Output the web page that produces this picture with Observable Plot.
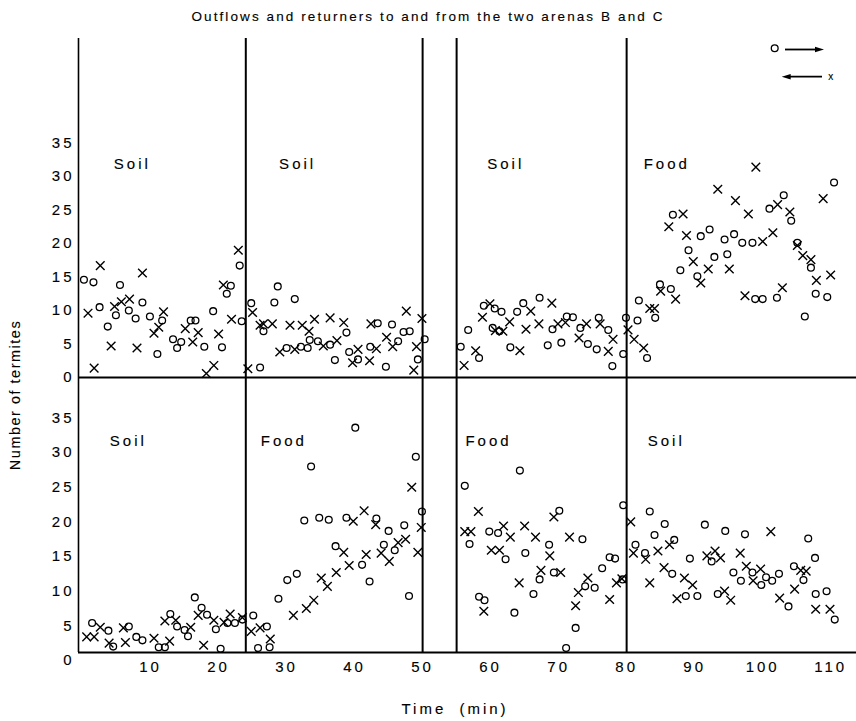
<!DOCTYPE html>
<html>
<head>
<meta charset="utf-8">
<script src="https://cdn.jsdelivr.net/npm/d3@7"></script>
<script src="https://cdn.jsdelivr.net/npm/@observablehq/plot@0.6"></script>
<style>
  html, body { margin: 0; padding: 0; background: #fff; }
  #chart { position: relative; width: 856px; height: 721px; font-family: "Liberation Sans", Arial, sans-serif; color: #000; overflow: hidden; }
  #chart .panel { position: absolute; left: 0; }
  #chart .title { position: absolute; left: 0; top: 9px; width: 856px; text-align: center; font-size: 13.5px; letter-spacing: 2.1px; line-height: 15px; -webkit-text-stroke: 0.12px #000; }
  #chart .ylabel { position: absolute; left: 15px; top: 395px; transform: translate(-50%, -50%) rotate(-90deg); white-space: nowrap; font-size: 14.5px; letter-spacing: 1.5px; -webkit-text-stroke: 0.12px #000; }
  #chart .xlabel { position: absolute; left: 455px; top: 708px; transform: translate(-50%, -50%); white-space: nowrap; font-size: 15px; letter-spacing: 3px; word-spacing: 6px; -webkit-text-stroke: 0.12px #000; }
  #chart .legend { position: absolute; left: 765px; top: 36px; }
  #chart svg text { letter-spacing: 3px; stroke: #000; stroke-width: 0.12px; }
  #chart g[aria-label="region label"] text { letter-spacing: 3.3px; }
</style>
</head>
<body>
<div id="chart">
  <div class="title">Outflows and returners to and from the two arenas B and C</div>
  <div class="ylabel">Number of termites</div>
  <div class="xlabel">Time (min)</div>
</div>
<script>
// ---- data (time in min, number of termites) ----
const dividers = [24, 50, 55, 80];
const xTicks = [10, 20, 30, 40, 50, 60, 70, 80, 90, 100, 110];
const yTicks = [0, 5, 10, 15, 20, 25, 30, 35];

// upper panel: outflows (o) and returners (x)
const topOut = [[0.2,14.6],[1.6,14.2],[2.5,10.5],[3.7,7.6],[4.9,9.3],[5.5,13.8],[6.8,10.0],[7.8,8.8],[8.8,11.2],[9.9,9.1],[11.0,3.5],[11.7,8.5],[13.3,5.7],[13.9,4.4],[14.5,5.3],[15.9,8.5],[16.6,8.5],[17.9,4.6],[19.2,9.9],[20.5,4.5],[21.2,12.5],[21.8,13.7],[23.1,16.7],[23.4,8.4],[24.8,11.1],[26.1,1.5],[26.6,6.9],[28.2,11.2],[28.7,13.6],[30.0,4.4],[31.2,11.7],[32.1,4.6],[33.1,4.4],[33.4,5.6],[34.6,5.4],[36.4,4.9],[37.1,2.6],[38.8,6.7],[39.2,3.8],[40.5,2.7],[42.3,4.6],[43.4,8.1],[44.6,1.6],[45.5,7.9],[46.4,5.4],[47.2,6.8],[48.1,6.9],[49.3,2.7],[50.3,5.7],[55.6,4.6],[56.7,7.1],[58.3,2.9],[59.0,10.7],[60.6,10.3],[61.6,9.8],[60.3,7.4],[61.3,6.9],[62.9,4.5],[63.9,9.8],[64.8,11.1],[67.2,11.9],[68.4,4.8],[69.1,7.2],[70.4,5.2],[71.2,9.1],[72.1,9.0],[73.2,7.4],[74.3,5.0],[75.6,4.2],[75.9,8.9],[77.3,7.1],[77.9,1.7],[79.5,3.5],[79.9,8.9],[81.6,8.5],[81.8,11.5],[83.0,2.9],[84.2,8.9],[84.9,13.9],[86.5,13.2],[86.8,24.3],[87.9,16.0],[89.1,19.0],[90.4,15.1],[90.9,21.1],[92.2,22.1],[92.9,18.0],[94.4,20.6],[94.8,18.4],[95.8,21.4],[97.0,20.1],[98.5,20.1],[98.9,11.7],[100.0,11.7],[101.0,25.2],[102.1,11.9],[103.1,27.2],[104.2,23.4],[105.1,20.1],[106.2,9.1],[107.1,16.4],[107.8,12.5],[109.5,12.0],[110.5,29.1]];
const topRet = [[0.8,9.6],[1.7,1.4],[2.6,16.7],[4.2,4.7],[4.7,10.6],[5.7,11.3],[6.9,11.7],[8.0,4.4],[8.8,15.6],[10.5,6.6],[11.2,7.5],[11.9,9.8],[15.1,7.3],[16.2,5.3],[17.0,6.7],[18.2,0.6],[19.3,1.8],[20.0,6.5],[20.7,13.8],[21.9,8.7],[22.9,19.0],[24.3,1.3],[25.0,9.7],[26.1,7.8],[26.6,8.0],[27.9,8.0],[29.0,3.8],[30.5,7.8],[31.2,4.2],[32.3,7.8],[33.3,6.9],[34.1,8.7],[35.4,4.7],[36.4,8.9],[37.4,5.5],[38.4,8.2],[39.7,2.2],[40.5,4.2],[42.2,2.5],[42.4,8.0],[43.2,4.3],[44.7,6.0],[45.6,4.6],[47.6,9.9],[48.7,1.1],[49.1,4.6],[49.9,8.8],[56.1,1.8],[57.8,4.0],[58.8,9.0],[59.9,11.0],[60.7,7.0],[61.8,6.9],[62.8,8.3],[64.3,4.0],[65.2,7.2],[65.9,9.9],[67.1,8.0],[69.0,11.1],[69.9,8.0],[71.0,8.2],[73.0,5.9],[74.1,8.0],[76.1,8.0],[77.3,3.9],[78.0,5.7],[80.2,7.1],[81.1,5.7],[82.5,4.4],[83.4,10.3],[84.1,10.3],[85.0,12.9],[86.2,22.5],[87.2,11.7],[88.3,24.4],[88.8,21.2],[89.8,17.3],[90.9,14.1],[92.0,16.2],[93.4,28.1],[95.1,16.2],[96.0,26.4],[97.4,12.2],[97.9,24.4],[99.0,31.4],[100.0,20.3],[101.5,21.6],[102.2,25.8],[102.9,13.4],[104.0,24.7],[105.1,19.7],[105.9,18.2],[107.1,17.6],[107.9,14.5],[108.9,26.7],[110.0,15.3]];

// lower panel: outflows (o) and returners (x)
const botOut = [[1.4,5.4],[3.8,4.3],[4.5,2.0],[6.8,4.9],[7.9,3.4],[8.8,2.9],[11.2,1.9],[12.1,1.9],[12.9,6.7],[13.9,4.9],[15.0,4.4],[15.5,3.5],[16.5,9.1],[17.5,7.6],[18.3,6.6],[19.6,4.5],[20.3,1.7],[21.3,5.4],[22.4,5.4],[23.5,5.9],[25.1,6.5],[25.8,1.8],[27.1,4.9],[27.5,1.9],[28.8,8.9],[30.1,11.6],[31.5,12.5],[32.6,20.2],[33.6,28.0],[34.8,20.6],[36.2,20.3],[37.2,16.5],[38.8,20.6],[40.1,33.6],[41.1,13.8],[42.2,11.4],[43.2,20.5],[44.3,16.7],[45.0,18.7],[45.9,15.9],[47.3,19.5],[48.0,9.3],[49.0,29.4],[49.9,21.5],[56.2,25.2],[56.9,16.8],[58.3,9.2],[59.1,8.7],[59.8,18.6],[61.1,18.4],[62.2,14.6],[63.5,6.9],[64.3,27.4],[65.1,15.5],[66.3,9.6],[67.2,11.7],[68.6,16.7],[69.3,12.7],[70.1,21.6],[71.1,1.8],[72.5,4.7],[73.5,17.5],[73.9,10.7],[75.3,10.5],[76.4,13.3],[77.5,14.9],[78.3,14.7],[79.4,11.7],[79.5,22.4],[81.3,16.7],[82.7,15.5],[83.4,21.5],[84.1,18.1],[85.6,19.7],[86.7,12.5],[87.0,17.4],[88.7,9.3],[89.3,14.7],[90.4,9.3],[91.5,19.6],[92.5,14.3],[93.4,9.6],[94.5,18.7],[95.7,12.7],[96.8,11.5],[97.4,18.2],[98.5,12.7],[99.8,10.9],[100.5,12.0],[101.4,11.5],[102.4,12.5],[103.8,7.8],[104.6,13.6],[106.0,11.6],[106.7,17.6],[107.7,14.8],[107.8,9.6],[109.4,10.0],[110.6,5.9]];
const botRet = [[0.6,3.4],[1.7,3.4],[2.6,4.8],[3.9,2.5],[6.0,4.7],[6.3,2.6],[10.5,3.2],[12.1,5.7],[12.8,2.8],[13.7,5.8],[15.9,4.8],[17.0,6.5],[17.8,2.2],[19.3,5.8],[20.8,5.5],[21.7,6.7],[23.5,6.2],[24.8,4.2],[26.1,4.7],[27.6,3.1],[31.0,6.5],[32.9,7.5],[34.0,8.7],[35.1,11.9],[36.0,10.7],[37.3,12.7],[38.4,15.6],[39.2,13.7],[39.8,20.1],[41.4,21.6],[41.7,15.3],[43.1,19.6],[43.9,15.5],[45.1,14.3],[46.4,17.0],[47.5,17.5],[48.4,25.0],[49.3,15.6],[49.8,19.2],[56.2,18.6],[57.1,18.6],[58.2,21.5],[59.0,7.1],[60.1,15.9],[61.3,15.9],[61.9,19.4],[62.9,17.8],[64.2,11.2],[65.0,19.4],[66.6,17.8],[67.4,13.0],[68.7,15.1],[69.3,20.7],[70.3,12.7],[71.6,17.8],[72.5,7.9],[72.9,9.8],[74.3,11.9],[77.5,8.8],[78.5,11.2],[79.3,11.8],[80.6,20.0],[81.0,15.5],[82.8,14.6],[83.4,11.2],[84.6,15.8],[85.5,13.4],[86.3,16.7],[87.4,8.9],[88.5,11.9],[89.7,10.9],[91.8,15.1],[93.0,15.8],[93.8,14.8],[94.4,10.0],[95.3,8.7],[96.7,15.5],[97.6,13.6],[98.6,11.5],[99.7,13.2],[101.2,18.6],[102.5,9.0],[104.7,10.3],[105.6,13.0],[106.4,12.9],[107.8,7.4],[109.9,7.4]];

// arena content labels
const topLabels = ["Soil", "Soil", "Soil", "Food"];
const topLabelT = [4.6, 28.9, 59.5, 82.5];
const botLabels = ["Soil", "Food", "Food", "Soil"];
const botLabelT = [4.0, 26.2, 56.3, 83.1];
const labelV = [31.9, 31.7];

// ---- scales ----
const xDomain = [-0.6, 113.8];
const topDomain = [0, 50.6];
const botDomain = [1.15, 40.84];

function panel({out, ret, labels, labelT, lv, yDomain, height, marginTop, marginBottom, withX}) {
  return Plot.plot({
    width: 856, height, marginLeft: 78, marginRight: 0, marginTop, marginBottom,
    x: {domain: xDomain, axis: withX ? undefined : null},
    y: {domain: yDomain},
    style: {background: "transparent", overflow: "visible", fontFamily: "'Liberation Sans', Arial, sans-serif", color: "#000"},
    marks: [
      Plot.axisY({ticks: yTicks, tickSize: 0, tickPadding: 4, fontSize: 15, label: null}),
      withX ? Plot.axisX({ticks: xTicks, tickSize: 0, tickPadding: 9, fontSize: 15, label: null}) : null,
      Plot.ruleY([yDomain[0]], {stroke: "#000", strokeWidth: 2}),
      Plot.ruleX([xDomain[0]], {stroke: "#000", strokeWidth: 1.6}),
      Plot.ruleX(dividers, {stroke: "#000", strokeWidth: 2}),
      Plot.dot(out, {x: d => d[0], y: d => d[1], r: 3.4, stroke: "#000", strokeWidth: 1.3, fill: "none"}),
      Plot.dot(ret, {x: d => d[0], y: d => d[1], symbol: "times", r: 4, stroke: "#000", strokeWidth: 1.4}),
      Plot.text(labels, {x: (d, i) => labelT[i], y: () => lv, text: d => d, textAnchor: "start", fontSize: 15, ariaLabel: "region label"})
    ]
  });
}

const chartEl = document.getElementById("chart");
const topPanel = panel({out: topOut, ret: topRet, labels: topLabels, labelT: topLabelT, lv: labelV[0], yDomain: topDomain, height: 380, marginTop: 38, marginBottom: 3, withX: false});
topPanel.classList.add("panel");
topPanel.style.top = "0px";
chartEl.appendChild(topPanel);

const bottomPanel = panel({out: botOut, ret: botRet, labels: botLabels, labelT: botLabelT, lv: labelV[1], yDomain: botDomain, height: 344, marginTop: 0, marginBottom: 69, withX: true});
bottomPanel.classList.add("panel");
bottomPanel.style.top = "377px";
chartEl.appendChild(bottomPanel);

// legend: o -> outflow, <- x returners
const ns = "http://www.w3.org/2000/svg";
const lg = document.createElementNS(ns, "svg");
lg.setAttribute("class", "legend");
lg.setAttribute("width", "90");
lg.setAttribute("height", "52");
lg.innerHTML = `
  <circle cx="9.7" cy="12.3" r="3.4" fill="none" stroke="#000" stroke-width="1.3"/>
  <line x1="20" y1="13.5" x2="52" y2="13.5" stroke="#000" stroke-width="1.8"/>
  <path d="M59,13.5 L50,10.8 L50,16.2Z" fill="#000"/>
  <line x1="24" y1="40.7" x2="57" y2="40.7" stroke="#000" stroke-width="1.8"/>
  <path d="M16.7,40.7 L25.7,38 L25.7,43.4Z" fill="#000"/>
  <text x="63.3" y="40.7" dy="0.32em" font-size="10" style="letter-spacing:0">x</text>`;
chartEl.appendChild(lg);
</script>
</body>
</html>
